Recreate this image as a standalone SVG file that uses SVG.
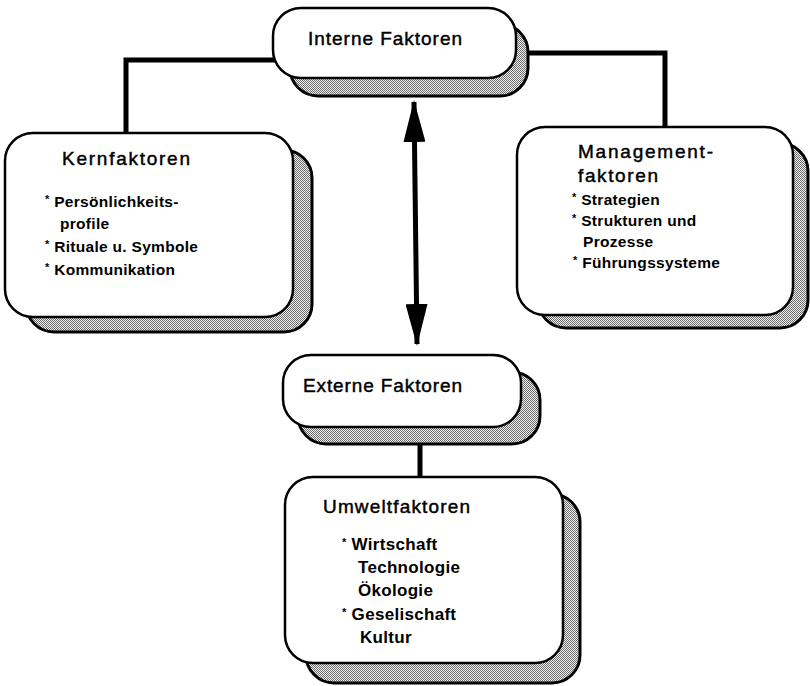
<svg xmlns="http://www.w3.org/2000/svg" width="810" height="686" viewBox="0 0 810 686">
  <defs>
    <pattern id="dots" patternUnits="userSpaceOnUse" width="2" height="2">
      <rect width="2" height="2" fill="#f2f2f2"/>
      <rect width="1" height="1" fill="#6a6a6a"/>
      <rect x="1" y="1" width="1" height="1" fill="#6a6a6a"/>
    </pattern>
    <marker id="ah" markerUnits="userSpaceOnUse" markerWidth="42" markerHeight="22" refX="40" refY="11" orient="auto-start-reverse" viewBox="0 0 42 22">
      <polygon points="0,0 42,11 0,22" fill="#000"/>
    </marker>
  </defs>
  <style>
    .shadow { fill: url(#dots); stroke: #000; stroke-width: 3; }
    .box { fill: #fff; stroke: #000; stroke-width: 2.5; }
    .conn { fill: none; stroke: #000; stroke-width: 5; }
    text { font-family: "Liberation Sans", Arial, Helvetica, sans-serif; fill: #000; }
    .title { font-size: 19px; stroke: #000; stroke-width: 0.45px; }
    .item { font-size: 15.5px; font-weight: bold; letter-spacing: 0.3px; }
    .big { font-size: 17px; }
    .ast { font-size: 11px; }
  </style>
  <rect width="810" height="686" fill="#fff"/>

  <g id="connectors">
    <polyline class="conn" points="275,60 126,60 126,134"/>
    <polyline class="conn" points="526,53 665,53 665,128"/>
    <line class="conn" x1="420" y1="442" x2="420" y2="478"/>
    <line x1="414" y1="102" x2="417" y2="344" stroke="#000" stroke-width="5" marker-start="url(#ah)" marker-end="url(#ah)"/>
  </g>

  <g id="interne">
    <rect class="shadow" x="290" y="24" width="238" height="72" rx="28"/>
    <rect class="box" x="273" y="8" width="243" height="70" rx="28"/>
    <text class="title" x="308" y="45" textLength="154" lengthAdjust="spacing">Interne Faktoren</text>
  </g>

  <g id="kern">
    <rect class="shadow" x="26" y="150" width="286" height="182" rx="28"/>
    <rect class="box" x="5" y="133" width="288" height="184" rx="28"/>
    <text class="title" x="62" y="165" textLength="128" lengthAdjust="spacing">Kernfaktoren</text>
    <text class="item" x="45" y="207"><tspan class="ast" dy="-4">*</tspan><tspan dy="4"> Persönlichkeits-</tspan></text>
    <text class="item" x="60" y="229">profile</text>
    <text class="item" x="45" y="252"><tspan class="ast" dy="-4">*</tspan><tspan dy="4"> Rituale u. Symbole</tspan></text>
    <text class="item" x="45" y="275"><tspan class="ast" dy="-4">*</tspan><tspan dy="4"> Kommunikation</tspan></text>
  </g>

  <g id="management">
    <rect class="shadow" x="538" y="143" width="270" height="185" rx="28"/>
    <rect class="box" x="517" y="127" width="276" height="188" rx="28"/>
    <text class="title" x="578" y="158" textLength="135" lengthAdjust="spacing">Management-</text>
    <text class="title" x="578" y="182" textLength="80" lengthAdjust="spacing">faktoren</text>
    <text class="item" x="572" y="205"><tspan class="ast" dy="-4">*</tspan><tspan dy="4"> Strategien</tspan></text>
    <text class="item" x="572" y="226"><tspan class="ast" dy="-4">*</tspan><tspan dy="4"> Strukturen und</tspan></text>
    <text class="item" x="583" y="247">Prozesse</text>
    <text class="item" x="573" y="268"><tspan class="ast" dy="-4">*</tspan><tspan dy="4"> Führungssysteme</tspan></text>
  </g>

  <g id="externe">
    <rect class="shadow" x="298" y="372" width="242" height="72" rx="28"/>
    <rect class="box" x="283" y="355" width="238" height="72" rx="28"/>
    <text class="title" x="303" y="392" textLength="159" lengthAdjust="spacing">Externe Faktoren</text>
  </g>

  <g id="umwelt">
    <rect class="shadow" x="306" y="494" width="274" height="189" rx="28"/>
    <rect class="box" x="285" y="477" width="278" height="186" rx="28"/>
    <text class="title" x="323" y="513" textLength="147" lengthAdjust="spacing">Umweltfaktoren</text>
    <text class="item big" x="342" y="550"><tspan class="ast" dy="-4">*</tspan><tspan dy="4"> Wirtschaft</tspan></text>
    <text class="item big" x="358" y="573">Technologie</text>
    <text class="item big" x="358" y="596">Ökologie</text>
    <text class="item big" x="342" y="620"><tspan class="ast" dy="-4">*</tspan><tspan dy="4"> Geselischaft</tspan></text>
    <text class="item big" x="360" y="643">Kultur</text>
  </g>
</svg>
